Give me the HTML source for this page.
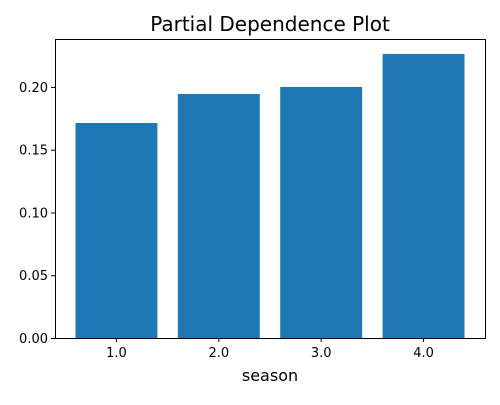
<!DOCTYPE html>
<html><head><meta charset="utf-8"><style>
body{margin:0;background:#fff;}
svg{font-family:"DejaVu Sans","Liberation Sans",sans-serif;}
</style></head><body>
<svg id="chart" width="500" height="400">
<text x="270" y="31" font-size="20" text-anchor="middle">Partial Dependence Plot</text>
<text x="270" y="381" font-size="16" text-anchor="middle">season</text>
<g id="bars"></g><g id="yt"></g><g id="xt"></g>
<rect x="55.5" y="39.5" width="430" height="299" fill="none" stroke="#000" stroke-width="1"/>
</svg>
<script>
const categories=["1.0","2.0","3.0","4.0"];
const values=[0.1713,0.1944,0.2,0.2263];
const yTicks=[0,0.05,0.10,0.15,0.20];
const yTickLabels=["0.00","0.05","0.10","0.15","0.20"];
const L=55,R=485,T=39,B=338,yMax=0.2382;
const x=i=>L+(i+0.6)/4.2*(R-L);
const y=v=>B-v/yMax*(B-T);
const ns="http://www.w3.org/2000/svg";
function mk(t,a,p){const e=document.createElementNS(ns,t);for(const k in a)e.setAttribute(k,a[k]);p.appendChild(e);return e;}
const bw=0.8/4.2*(R-L);
const gb=document.getElementById('bars'),gy=document.getElementById('yt'),gx=document.getElementById('xt');
values.forEach((v,i)=>{
 const r=mk('rect',{x:x(i)-bw/2,y:y(v),width:bw,height:B-y(v),fill:'#1f77b4'},gb);
 
 
 const tk=mk('line',{x1:x(i),x2:x(i),y1:B,y2:B+4,stroke:'#000'},gx);
 
 
 const t=mk('text',{x:x(i),y:B+19,'font-size':13,'text-anchor':'middle'},gx);
 t.textContent=categories[i];
 
 
});
yTicks.forEach((v,i)=>{
 const tk=mk('line',{x1:L-4,x2:L,y1:y(v)+0.5,y2:y(v)+0.5,stroke:'#000'},gy);
 
 
 const t=mk('text',{x:L-7,y:y(v)+5,'font-size':13,'text-anchor':'end'},gy);
 t.textContent=yTickLabels[i];
 
 
});
</script>
</body></html>
